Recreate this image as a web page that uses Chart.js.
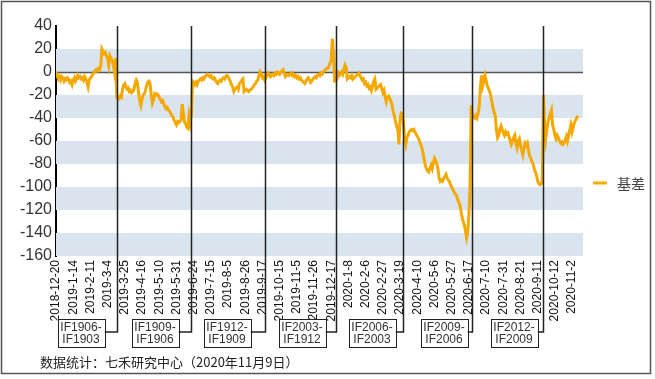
<!DOCTYPE html>
<html>
<head>
<meta charset="utf-8">
<script src="https://cdn.jsdelivr.net/npm/chart.js@4.4.1/dist/chart.umd.min.js"></script>
<style>
  html, body { margin: 0; padding: 0; background: #fff; }
</style>
</head>
<body>
<canvas id="basisChart" width="655" height="379"></canvas>
<script>
// x축 눈금 (15 거래일 간격)
const tickLabels = [
  "2018-12-20", "2019-1-14", "2019-2-11", "2019-3-4", "2019-3-25", "2019-4-16",
  "2019-5-10", "2019-5-31", "2019-6-24", "2019-7-15", "2019-8-5", "2019-8-26",
  "2019-9-17", "2019-10-15", "2019-11-5", "2019-11-26", "2019-12-17", "2020-1-8",
  "2020-2-6", "2020-2-27", "2020-3-19", "2020-4-10", "2020-5-6", "2020-5-27",
  "2020-6-17", "2020-7-10", "2020-7-31", "2020-8-21", "2020-9-11", "2020-10-12",
  "2020-11-2",
];

// 基差 (일별, 계약 구간별)
const basis1903 = [
  0, -3, -6, -4, -7, -4, -5, -8, -6, -7,
  -5, -6, -9, -8, -11, -7, -5, -8, -6, -3,
  -5, -4, -6, -5, -7, -4, -6, -9, -13, -7,
  -5, -4, -2, -1, 1, 2, 1, 3, 2, 5,
  20, 18, 16, 17, 14, 12, 6, 14, 12, 10,
  6, 0, 12,
];
const basis1906 = [
  -22, -22, -23, -21, -22, -15, -11, -10, -13, -15,
  -14, -17, -16, -18, -17, -15, -10, -7, -9, -18,
  -25, -29, -24, -20, -19, -16, -12, -9, -8, -10,
  -20, -27, -24, -19, -20, -19, -20, -22, -24, -26,
  -25, -28, -30, -32, -31, -33, -34, -36, -38, -39,
  -42, -44, -46, -43, -44, -43, -42, -28, -36, -43,
  -45, -48, -49, -38, -44, -36,
];
const basis1909 = [
  -8, -9, -11, -9, -11, -8, -7, -6, -7, -5,
  -6, -4, -3, -2, -3, -4, -3, -5, -6, -5,
  -7, -9, -10, -8, -7, -8, -6, -5, -6, -4,
  -3, -4, -6, -8, -11, -13, -17, -15, -14, -13,
  -15, -10, -9, -7, -6, -17, -16, -15, -16, -17,
  -16, -15, -14, -13, -11, -10, -8, -7, -3, 0,
  -2, -5, -4, -7,
];
const basis1912 = [
  -5, -3, -1, -2, -4, -3, -2, -3, -1, -2,
  0, -1, -2, 0, 1, 2, -1, -4, -3, -2,
  -3, -2, -1, -3, -2, -4, -3, -5, -4, -6,
  -5, -7, -8, -9, -10, -8, -6, -5, -7, -9,
  -8, -6, -5, -4, -5, -3, -2, -3, -1, -2,
  0, 1, 2, 3, 3, 5, 8, 11, 29, 14,
  -8,
];
const basis2003 = [
  -8, -6, -1, -3, -2, 0, -2, 2, 6, 4,
  -6, -5, -4, -5, -3, -6, -5, -4, -3, -2,
  -1, -3, -5, -7, -6, -10, -9, -12, -11, -14,
  -13, -16, -12, -8, -6, -15, -14, -13, -12, -11,
  -14, -18, -16, -22, -26, -22, -21, -23, -25, -29,
  -34, -38, -43, -47, -50, -63, -40, -36,
];
const basis2006 = [
  -37, -45, -58, -63, -57, -55, -52, -51, -50, -51,
  -50, -52, -54, -56, -58, -60, -63, -66, -70, -76,
  -81, -84, -86, -87, -84, -81, -84, -79, -75, -77,
  -80, -84, -92, -95, -94, -95, -93, -91, -89, -92,
  -94, -95, -98, -100, -102, -104, -106, -107, -110, -113,
  -115, -120, -126, -130, -133, -138, -144, -139, -125, -101,
  -29,
];
const basis2009 = [
  -37, -39, -40, -38, -40, -36, -30, -15, -3, -12,
  -8, -3, -7, -12, -14, -17, -20, -26, -31, -35,
  -38, -50, -57, -55, -50, -47, -50, -53, -55, -52,
  -54, -53, -56, -60, -63, -60, -57, -55, -62, -66,
  -60, -58, -64, -68, -72, -66, -62, -64, -62, -68,
  -73, -75, -78, -80, -84, -87, -90, -95, -97, -98,
  -97, -95,
];
const basis2012 = [
  -20, -45, -58, -50, -43, -40, -36, -33, -46, -50,
  -55, -58, -55, -57, -60, -62, -61, -63, -62, -59,
  -56, -60, -55, -50, -46, -52, -48, -44, -42, -40,
  -38,
];

// 换月 위치 (거래일 인덱스) 와 라벨
const rollIndex = [53, 118, 182, 244, 302.5, 362.5, 424.5];
const rollLabels = [
  ["IF1906-", "IF1903"],
  ["IF1909-", "IF1906"],
  ["IF1912-", "IF1909"],
  ["IF2003-", "IF1912"],
  ["IF2006-", "IF2003"],
  ["IF2009-", "IF2006"],
  ["IF2012-", "IF2009"],
];

const basis = [].concat(basis1903, basis1906, basis1909, basis1912,
  basis2003, basis2006, basis2009, basis2012);

const lineColor = "#F5A800";
const bandColor = "#D9E4EF";

// 배경 띠 + 0 라인
const bandPlugin = {
  id: "bands",
  beforeDatasetsDraw(chart) {
    const { ctx, chartArea, scales } = chart;
    const y = scales.y;
    ctx.save();
    ctx.fillStyle = bandColor;
    y.ticks.forEach((t) => {
      if (t.value % 40 === 0 && t.value < y.max) {
        const top = y.getPixelForValue(t.value + 20);
        const bottom = y.getPixelForValue(t.value);
        ctx.fillRect(chartArea.left, top, chartArea.right - chartArea.left, bottom - top);
      }
    });
    const y0 = Math.round(y.getPixelForValue(0)) + 0.5;
    ctx.strokeStyle = "#555";
    ctx.lineWidth = 1.5;
    ctx.beginPath();
    ctx.moveTo(chartArea.left, y0);
    ctx.lineTo(chartArea.right, y0);
    ctx.stroke();
    ctx.restore();
  },
};

// 换月 세로선 + 라벨 박스
const rollPlugin = {
  id: "rolls",
  afterDatasetsDraw(chart, args, opts) {
    const { ctx, chartArea, scales } = chart;
    ctx.save();
    rollIndex.forEach((idx, n) => {
      const x = Math.round(scales.x.getPixelForValue(idx)) + 0.5;
      const boxW = 47, boxH = 28, boxTop = 319;
      const midY = boxTop + 13;
      const boxRight = x - opts.gaps[n];
      ctx.strokeStyle = "#222";
      ctx.lineWidth = 1.5;
      ctx.beginPath();
      ctx.moveTo(x, chartArea.top);
      ctx.lineTo(x, midY);
      ctx.lineTo(boxRight, midY);
      ctx.stroke();
      ctx.fillStyle = "#fff";
      ctx.fillRect(boxRight - boxW, boxTop, boxW, boxH);
      ctx.lineWidth = 1;
      ctx.strokeRect(Math.round(boxRight - boxW) + 0.5, boxTop + 0.5, boxW, boxH);
      ctx.fillStyle = "#333";
      ctx.font = '12px "Liberation Sans", Arial, sans-serif';
      ctx.textAlign = "center";
      ctx.textBaseline = "middle";
      const cx = boxRight - boxW / 2;
      ctx.fillText(rollLabels[n][0], cx, boxTop + 8.5);
      ctx.fillText(rollLabels[n][1], cx, boxTop + 21);
    });
    ctx.restore();
  },
};

// 범례, 출처, 테두리
const decorPlugin = {
  id: "decor",
  afterDraw(chart) {
    const { ctx, chartArea } = chart;
    ctx.save();
    ctx.strokeStyle = lineColor;
    ctx.lineWidth = 3;
    ctx.beginPath();
    ctx.moveTo(chartArea.right + 10, 183);
    ctx.lineTo(chartArea.right + 24, 183);
    ctx.stroke();
    ctx.fillStyle = "#444";
    ctx.font = '14px "Noto Sans CJK SC", sans-serif';
    ctx.textBaseline = "middle";
    ctx.fillText("基差", chartArea.right + 34, 184);

    ctx.fillStyle = "#222";
    ctx.font = '13px "Noto Sans CJK SC", sans-serif';
    ctx.fillText("数据统计：七禾研究中心（2020年11月9日）", 40, 362);

    ctx.strokeStyle = "#555";
    ctx.lineWidth = 1.5;
    ctx.strokeRect(1.5, 1.5, 649, 372);
    ctx.restore();
  },
};

new Chart(document.getElementById("basisChart").getContext("2d"), {
  type: "line",
  data: {
    datasets: [
      {
        label: "基差",
        data: basis.map((v, i) => ({ x: i, y: v })),
        borderColor: lineColor,
        backgroundColor: lineColor,
        borderWidth: 3,
        pointRadius: 0,
        tension: 0,
      },
    ],
  },
  options: {
    responsive: false,
    animation: false,
    layout: { padding: { left: 0, right: 72, top: 26, bottom: 47 } },
    plugins: {
      legend: { display: false },
      tooltip: { enabled: false },
      rolls: { gaps: [13, 13, 15, 11, 8, 5, 6] },
    },
    scales: {
      x: {
        type: "linear",
        min: 0,
        max: 459.5,
        grid: { display: false, drawTicks: false },
        border: { display: false },
        afterFit: (s) => { s.height = 76; },
        ticks: {
          stepSize: 15,
          autoSkip: false,
          maxTicksLimit: 100,
          includeBounds: false,
          maxRotation: 90,
          minRotation: 90,
          padding: 4,
          color: "#111",
          font: { family: '"Liberation Sans", Arial, sans-serif', size: 12 },
          callback: (v) => (v % 15 === 0 ? tickLabels[v / 15] || "" : ""),
        },
      },
      y: {
        min: -160,
        max: 40,
        grid: { display: false, drawTicks: false },
        border: { display: true, color: "#000", width: 2 },
        afterFit: (s) => { s.width = 56; },
        ticks: {
          stepSize: 20,
          padding: 4,
          color: "#333",
          font: { family: '"Liberation Sans", Arial, sans-serif', size: 16 },
        },
      },
    },
  },
  plugins: [bandPlugin, rollPlugin, decorPlugin],
});
</script>
</body>
</html>
